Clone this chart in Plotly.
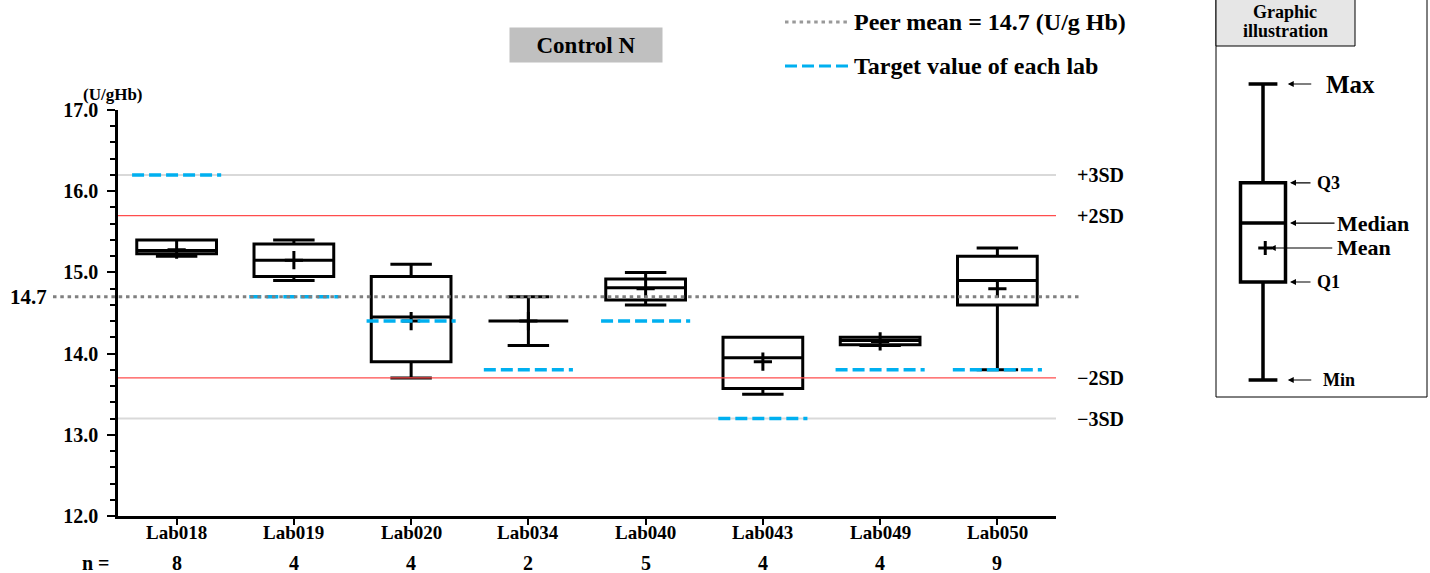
import plotly.graph_objects as go

# ---------------- data ----------------
labs = ["Lab018", "Lab019", "Lab020", "Lab034", "Lab040", "Lab043", "Lab049", "Lab050"]
n_counts = [8, 4, 4, 2, 5, 4, 4, 9]
mins = [15.20, 14.90, 13.70, 14.10, 14.60, 13.50, 14.10, 13.80]
q1s = [15.23, 14.95, 13.90, 14.40, 14.66, 13.57, 14.11, 14.60]
medians = [15.27, 15.15, 14.45, 14.40, 14.81, 13.95, 14.16, 14.90]
q3s = [15.40, 15.35, 14.95, 14.40, 14.92, 14.20, 14.20, 15.20]
maxs = [15.40, 15.40, 15.10, 14.70, 15.00, 14.20, 14.20, 15.30]
means = [15.28, 15.15, 14.40, 14.40, 14.80, 13.90, 14.15, 14.80]
targets = [16.2, 14.7, 14.4, 13.8, 14.4, 13.2, 13.8, 13.8]

peer_mean = 14.7
sd = 0.5
sd_levels = [3, 2, -2, -3]
sd_labels = ["+3SD", "+2SD", "\u22122SD", "\u22123SD"]
sd_colors = ["#D9D9D9", "#FF4D4D", "#FF4D4D", "#D9D9D9"]
sd_widths = [2, 1.3, 1.3, 2]
sd_layers = ["below", "above", "above", "below"]

y_ticks = [12, 13, 14, 15, 16, 17]

# illustration (schematic) box statistics
ill_min, ill_q1, ill_med, ill_mean, ill_q3, ill_max = 0.0, 3.31, 5.30, 4.46, 6.66, 10.0

# ---------------- layout helpers ----------------
W, H = 1430, 573
ML, MR, MT, MB = 118, 3, 0, 57
PW, PH = W - ML - MR, H - MT - MB


def px(xp):
    return (xp - ML) / PW


def py(yp):
    return (H - MB - yp) / PH


FONT = "Liberation Serif"
MAIN_W = 1056 - 118


def dx(xp):  # pixel -> x domain fraction of main plot
    return (xp - 118) / MAIN_W


def bfont(size, color="black"):
    return dict(family=FONT, size=size, color=color, weight="bold")


fig = go.Figure()

# boxes
fig.add_trace(go.Box(
    x=list(range(len(labs))), q1=q1s, median=medians, q3=q3s,
    lowerfence=mins, upperfence=maxs,
    width=0.68, whiskerwidth=0.52, boxpoints=False,
    line=dict(color="black", width=3), fillcolor="white",
    showlegend=False, hoverinfo="skip"))

# means
fig.add_trace(go.Scatter(
    x=list(range(len(labs))), y=means, mode="markers",
    marker=dict(symbol="cross-thin", size=13, line=dict(width=3, color="black")),
    showlegend=False, hoverinfo="skip"))

# target values
tx, ty = [], []
for i, t in enumerate(targets):
    tx += [i - 0.38, i + 0.38, None]
    ty += [t, t, None]
fig.add_trace(go.Scatter(
    x=tx, y=ty, mode="lines",
    line=dict(color="#00B0F0", width=3.5, dash="12px,5px"),
    showlegend=False, hoverinfo="skip"))

# illustration box
fig.add_trace(go.Box(
    x=[0], q1=[ill_q1], median=[ill_med], q3=[ill_q3],
    lowerfence=[ill_min], upperfence=[ill_max],
    width=1, whiskerwidth=0.64, boxpoints=False,
    line=dict(color="black", width=3.5), fillcolor="white",
    xaxis="x2", yaxis="y2", showlegend=False, hoverinfo="skip"))
fig.add_trace(go.Scatter(
    x=[0.05], y=[ill_mean], mode="markers",
    marker=dict(symbol="cross-thin", size=10, line=dict(width=3, color="black")),
    xaxis="x2", yaxis="y2", showlegend=False, hoverinfo="skip"))

shapes = []
annotations = []

# SD lines + labels
for lvl, lab, col, w, lay in zip(sd_levels, sd_labels, sd_colors, sd_widths, sd_layers):
    yv = peer_mean + lvl * sd
    shapes.append(dict(type="line", xref="x domain", yref="y", x0=0, x1=1,
                       y0=yv, y1=yv, line=dict(color=col, width=w), layer=lay))
    annotations.append(dict(xref="x domain", yref="y", x=dx(1075), y=yv,
                            text=lab, showarrow=False, xanchor="left",
                            yanchor="middle", font=bfont(20)))

# peer mean dotted line
shapes.append(dict(type="line", xref="x domain", yref="y", x0=dx(53), x1=dx(1080),
                   y0=peer_mean, y1=peer_mean,
                   line=dict(color="#808080", width=3, dash="3.5px,3.8px"), layer="above"))
annotations.append(dict(xref="x domain", yref="y", x=dx(49), y=peer_mean,
                        text=f"{peer_mean:.1f}", showarrow=False, xanchor="right",
                        yanchor="middle", font=bfont(21)))

# y axis unit
annotations.append(dict(xref="paper", yref="paper", x=px(113), y=py(94),
                        text="(U/gHb)", showarrow=False, xanchor="center",
                        yanchor="middle", font=bfont(17)))

# category labels and n row
for i, lab in enumerate(labs):
    annotations.append(dict(xref="x", yref="paper", x=i, y=py(532),
                            text=lab, showarrow=False, xanchor="center",
                            yanchor="middle", font=bfont(19)))
annotations.append(dict(xref="paper", yref="paper", x=px(96), y=py(563),
                        text="n =", showarrow=False, xanchor="center",
                        yanchor="middle", font=bfont(20)))
for i, nc in enumerate(n_counts):
    annotations.append(dict(xref="x", yref="paper", x=i, y=py(563),
                            text=str(nc), showarrow=False, xanchor="center",
                            yanchor="middle", font=bfont(20)))

# title box
annotations.append(dict(xref="paper", yref="paper", x=px(586), y=py(45),
                        text="Control N", showarrow=False, xanchor="center",
                        yanchor="middle", bgcolor="#C0C0C0", width=150, height=32,
                        font=bfont(23)))

# legend
shapes.append(dict(type="line", xref="paper", yref="paper", x0=px(785), x1=px(848),
                   y0=py(22), y1=py(22),
                   line=dict(color="#999999", width=3, dash="3.5px,3.8px")))
annotations.append(dict(xref="paper", yref="paper", x=px(852), y=py(22),
                        text=f"Peer mean = {peer_mean} (U/g Hb)", showarrow=False,
                        xanchor="left", yanchor="middle", font=bfont(24)))
shapes.append(dict(type="line", xref="paper", yref="paper", x0=px(785), x1=px(848),
                   y0=py(66), y1=py(66),
                   line=dict(color="#00B0F0", width=3, dash="12px,5px")))
annotations.append(dict(xref="paper", yref="paper", x=px(852), y=py(66),
                        text="Target value of each lab", showarrow=False,
                        xanchor="left", yanchor="middle", font=bfont(24)))

# illustration frame + header
shapes.append(dict(type="rect", xref="paper", yref="paper", x0=px(1216), x1=px(1427),
                   y0=py(397), y1=py(-2), line=dict(color="black", width=1)))
shapes.append(dict(type="rect", xref="paper", yref="paper", x0=px(1216), x1=px(1355),
                   y0=py(46), y1=py(-2), line=dict(color="black", width=1),
                   fillcolor="#E6E6E6"))
for txt, yp in [("Graphic", 12), ("illustration", 31)]:
    annotations.append(dict(xref="paper", yref="paper", x=px(1285), y=py(yp),
                            text=txt, showarrow=False,
                            xanchor="center", yanchor="middle", font=bfont(18)))

# illustration labels and arrows
ill_items = [
    (ill_max, "Max", 25, 0.55, 1324, 25),
    (ill_q3, "Q3", 18, 0.60, 1315, 22),
    (ill_med, "Median", 22, 0.60, 1335, 46),
    (ill_mean, "Mean", 22, 0.15, 1335, 64),
    (ill_q1, "Q1", 18, 0.60, 1315, 22),
    (ill_min, "Min", 18, 0.55, 1321, 25),
]
for yv, txt, fs, xhead, xtext, alen in ill_items:
    annotations.append(dict(xref="x2", yref="y2", x=xhead, y=yv, ax=alen, ay=0,
                            text="", showarrow=True, arrowhead=2, arrowsize=1,
                            arrowwidth=1.2, arrowcolor="black"))
    annotations.append(dict(xref="paper", yref="y2", x=px(xtext), y=yv,
                            text=txt, showarrow=False, xanchor="left",
                            yanchor="middle", font=bfont(fs)))

fig.update_layout(
    width=W, height=H,
    margin=dict(l=ML, r=MR, t=MT, b=MB, pad=0, autoexpand=False),
    paper_bgcolor="white", plot_bgcolor="white",
    shapes=shapes, annotations=annotations, showlegend=False,
    xaxis=dict(domain=[0, MAIN_W / PW], range=[-0.5, len(labs) - 0.5],
               tickvals=list(range(len(labs))), showticklabels=False,
               ticks="outside", ticklen=6, tickwidth=2, tickcolor="black",
               showline=True, linecolor="black", linewidth=2.5,
               showgrid=False, zeroline=False,
               automargin=False, fixedrange=True),
    yaxis=dict(domain=[0, py(110)], range=[12, 17], tickvals=y_ticks,
               tickformat=".1f", ticks="outside", ticklen=8, tickwidth=2,
               tickcolor="black", showline=True, linecolor="black", linewidth=2.5,
               showgrid=False, zeroline=False, tickfont=bfont(20),
               ticklabelstandoff=5, automargin=False,
               minor=dict(dtick=0.2, ticks="outside", ticklen=5, tickwidth=2,
                          tickcolor="black", showgrid=False),
               fixedrange=True),
    xaxis2=dict(domain=[px(1216), 1.0], range=[-47 / 45, 164 / 45], visible=False,
                anchor="y2", automargin=False, fixedrange=True),
    yaxis2=dict(domain=[0, 1], range=[(380 - 516) / 29.6, 380 / 29.6], visible=False,
                anchor="x2", automargin=False, fixedrange=True),
)

fig.write_html("out.html", config={"displayModeBar": False},
               post_script="document.body.style.margin='0';")
